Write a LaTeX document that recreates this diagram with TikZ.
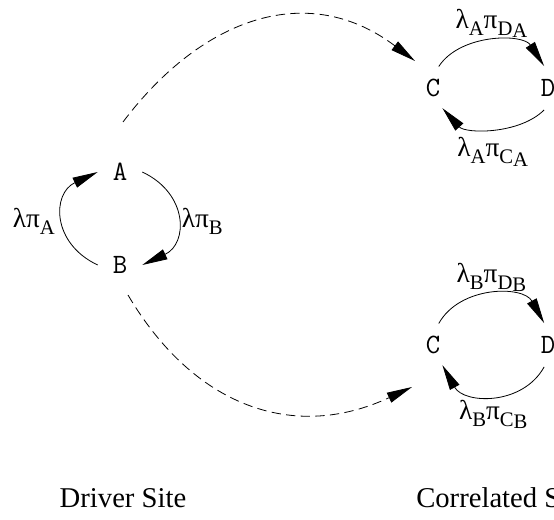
\documentclass[tikz,border=0pt]{standalone}
\usepackage{fontspec}
\setmainfont{Liberation Serif}
\usetikzlibrary{arrows.meta,positioning}
\newcommand{\lo}[1]{\raisebox{-5pt}{\fontsize{15.5}{16}\selectfont #1}}
\newcommand{\rate}[3]{λ\lo{#1}π\lo{#2\raisebox{-2pt}{#3}}}

\begin{document}
\begin{tikzpicture}[x=0.75pt,y=0.75pt,
  state/.style={circle,minimum size=33pt,inner sep=0pt,font=\fontsize{21}{24}\ttfamily},
  ratelbl/.style={inner sep=0pt,font=\fontsize{20.5}{24}\selectfont},
  hop/.style={line width=0.6pt,-{Triangle[length=19pt,width=8pt]}},
  link/.style={hop,dash pattern=on 7pt off 4pt},
  site/.style={inner sep=0pt,font=\fontsize{21.5}{24}\selectfont}]
\clip (0,0) rectangle (554,519);

%Driver site states
\node[state] (A) at (120,347) {A};
\node[state] (B) at (120,254) {B};
%Correlated site states, driver in A
\node[state] (Ca) at (433,431) {C};
\node[state] (Da) at (548,431) {D};
%Correlated site states, driver in B
\node[state] (Cb) at (433,174) {C};
\node[state] (Db) at (548,174) {D};

%Driver cycle
\draw[hop] (B.west) to[out=155,in=205,looseness=1.4] node[ratelbl,midway,left=6pt,yshift=-2pt] {λπ\lo{A}} (A.west);
\draw[hop] (A.east) to[out=-25,in=25,looseness=1.4] node[ratelbl,midway,right=3.5pt,yshift=-2pt] {λπ\lo{B}} (B.east);

%Upper cycle
\draw[hop] (Ca.75) to[out=57,in=123,looseness=0.95] node[ratelbl,midway,above=2.5pt] {\rate{A}{D}{A}} (Da.100);
\draw[hop] (Da.-100) to[out=-135,in=-48,looseness=0.87] node[ratelbl,midway,below=7pt] {\rate{A}{C}{A}} (Ca.-65);

%Lower cycle
\draw[hop] (Cb.75) to[out=61,in=119,looseness=1.05] node[ratelbl,midway,above=2pt] {\rate{B}{D}{B}} (Db.100);
\draw[hop] (Db.-100) to[out=-119,in=-61,looseness=1.12] node[ratelbl,midway,below=3.5pt] {\rate{B}{C}{B}} (Cb.-65);

%Dashed links
\coordinate (outA) at (123,397);
\coordinate (inCa) at (415,458);
\coordinate (outB) at (128,224);
\coordinate (inCb) at (412,132);
\draw[link] (outA) .. controls (203,503) and (309,538) .. (inCa);
\draw[link] (outB) .. controls (194,112) and (294,77) .. (inCb);

% Text Node
\node[site] (driver) at (123,21) {Driver Site};
% Text Node
\node[site,anchor=west] (corr) at (416,21) {Correlated Site};
\end{tikzpicture}
\end{document}
